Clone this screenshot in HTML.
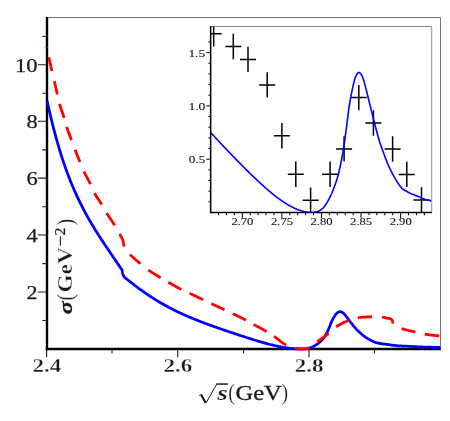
<!DOCTYPE html>
<html><head><meta charset="utf-8"><title>plot</title>
<style>
html,body{margin:0;padding:0;background:#fff;}
body{width:450px;height:421px;overflow:hidden;font-family:"Liberation Serif",serif;}
svg{display:block;will-change:transform;}
</style></head><body>
<svg width="450" height="421" viewBox="0 0 450 421" font-family="'Liberation Serif', serif">
<rect width="450" height="421" fill="#fff"/>
<!-- outer frame (top/right) -->
<path d="M46,17.5H440.5V350" fill="none" stroke="#737373" stroke-width="1"/>
<!-- inset frame (top/right) -->
<path d="M210.9,26.5H431.9" fill="none" stroke="#858585" stroke-width="1"/>
<path d="M431.6,26.5V213.2" fill="none" stroke="#a8a8a8" stroke-width="1.4"/>
<!-- main axes -->
<path d="M47.0,17V350.2" fill="none" stroke="#000" stroke-width="2.4"/>
<path d="M45.8,349.0H440.6" fill="none" stroke="#000" stroke-width="2.4"/>
<path d="M37.80,64.70H47.00 M37.80,121.20H47.00 M37.80,178.10H47.00 M37.80,235.00H47.00 M37.80,292.00H47.00 M42.40,36.50H47.00 M42.40,93.20H47.00 M42.40,149.90H47.00 M42.40,206.80H47.00 M42.40,263.60H47.00 M42.40,320.50H47.00 M46.60,349.00V357.20 M177.70,349.00V357.20 M309.00,349.00V357.20 M112.00,349.00V353.60 M243.60,349.00V353.60 M374.50,349.00V353.60" fill="none" stroke="#1a1a1a" stroke-width="1.1"/>
<!-- inset axes -->
<path d="M210.65,26V213.2" fill="none" stroke="#000" stroke-width="1.5"/>
<path d="M210.2,212.5H431.8" fill="none" stroke="#000" stroke-width="1.5"/>
<path d="M208.40,201.84H210.65 M208.40,191.18H210.65 M208.40,180.52H210.65 M208.40,169.86H210.65 M206.40,159.20H210.65 M208.40,148.54H210.65 M208.40,137.88H210.65 M208.40,127.22H210.65 M208.40,116.56H210.65 M206.40,105.90H210.65 M208.40,95.24H210.65 M208.40,84.58H210.65 M208.40,73.92H210.65 M208.40,63.26H210.65 M206.40,52.60H210.65 M208.40,41.94H210.65 M218.55,212.50V215.30 M226.47,212.50V215.30 M234.38,212.50V215.30 M242.30,212.50V218.00 M250.21,212.50V215.30 M258.13,212.50V215.30 M266.04,212.50V215.30 M273.96,212.50V215.30 M281.87,212.50V218.00 M289.79,212.50V215.30 M297.70,212.50V215.30 M305.62,212.50V215.30 M313.53,212.50V215.30 M321.45,212.50V218.00 M329.36,212.50V215.30 M337.28,212.50V215.30 M345.19,212.50V215.30 M353.11,212.50V215.30 M361.02,212.50V218.00 M368.94,212.50V215.30 M376.85,212.50V215.30 M384.77,212.50V215.30 M392.68,212.50V215.30 M400.60,212.50V218.00 M408.51,212.50V215.30 M416.43,212.50V215.30 M424.35,212.50V215.30" fill="none" stroke="#000" stroke-width="1.0"/>
<!-- crosses -->
<clipPath id="ci"><rect x="210.9" y="26.4" width="220.3" height="186.1"/></clipPath>
<path d="M205.70,33.70H221.70 M213.70,21.00V46.40 M225.30,46.50H241.30 M233.30,33.80V59.20 M240.00,59.40H256.00 M248.00,46.70V72.10 M259.20,84.90H275.20 M267.20,72.20V97.60 M273.90,135.80H289.90 M281.90,123.10V148.50 M287.80,174.20H303.80 M295.80,161.50V186.90 M302.60,200.20H318.60 M310.60,187.50V212.90 M322.10,174.20H338.10 M330.10,161.50V186.90 M336.10,148.90H352.10 M344.10,136.20V161.60 M350.80,97.60H366.80 M358.80,84.90V110.30 M365.40,123.00H381.40 M373.40,110.30V135.70 M384.60,149.00H400.60 M392.60,136.30V161.70 M398.80,174.40H414.80 M406.80,161.70V187.10 M413.50,200.00H429.50 M421.50,187.30V212.70" fill="none" stroke="#000" stroke-width="1.5" clip-path="url(#ci)"/>
<!-- inset curve -->
<path d="M210.48,132.31 L211.55,133.48 L212.62,134.65 L213.70,135.81 L214.77,136.97 L215.84,138.13 L216.91,139.28 L217.99,140.43 L219.06,141.58 L220.13,142.72 L221.20,143.86 L222.28,145.00 L223.35,146.13 L224.42,147.27 L225.49,148.39 L226.56,149.52 L227.64,150.64 L228.71,151.76 L229.78,152.88 L230.85,153.99 L231.93,155.11 L233.00,156.21 L234.07,157.32 L235.14,158.42 L236.21,159.52 L237.29,160.62 L238.36,161.72 L239.43,162.81 L240.50,163.89 L241.58,164.98 L242.65,166.06 L243.72,167.13 L244.79,168.21 L245.87,169.28 L246.94,170.34 L248.01,171.40 L249.08,172.46 L250.15,173.51 L251.23,174.55 L252.30,175.59 L253.37,176.63 L254.44,177.66 L255.52,178.68 L256.59,179.70 L257.66,180.70 L258.73,181.71 L259.81,182.70 L260.88,183.69 L261.95,184.67 L263.02,185.64 L264.09,186.60 L265.17,187.55 L266.24,188.49 L267.31,189.43 L268.38,190.35 L269.46,191.26 L270.53,192.16 L271.60,193.05 L272.67,193.92 L273.75,194.78 L274.82,195.63 L275.89,196.47 L276.96,197.29 L278.03,198.09 L279.11,198.88 L280.18,199.66 L281.25,200.42 L282.32,201.16 L283.40,201.88 L284.47,202.58 L285.54,203.27 L286.61,203.93 L287.68,204.58 L288.76,205.20 L289.83,205.81 L290.90,206.39 L291.97,206.95 L293.05,207.49 L294.12,208.00 L295.19,208.49 L296.26,208.95 L297.34,209.39 L298.41,209.80 L299.48,210.19 L300.55,210.54 L301.62,210.87 L302.70,211.17 L303.77,211.45 L304.84,211.69 L305.91,211.90 L306.99,212.08 L308.06,212.23 L309.13,212.35 L310.20,212.43 L311.28,212.48 L312.35,212.50 L312.35,212.50 L312.57,212.50 L312.80,212.49 L313.02,212.48 L313.24,212.47 L313.47,212.45 L313.69,212.42 L313.92,212.40 L314.14,212.37 L314.37,212.34 L314.59,212.30 L314.81,212.27 L315.04,212.23 L315.26,212.18 L315.49,212.14 L315.71,212.09 L315.93,212.04 L316.16,212.00 L316.38,211.94 L316.61,211.89 L316.83,211.84 L317.06,211.79 L317.28,211.72 L317.50,211.65 L317.73,211.56 L317.95,211.47 L318.18,211.37 L318.40,211.26 L318.63,211.14 L318.85,211.02 L319.07,210.89 L319.30,210.75 L319.52,210.62 L319.75,210.48 L319.97,210.34 L320.19,210.20 L320.42,210.06 L320.64,209.91 L320.87,209.76 L321.09,209.60 L321.32,209.44 L321.54,209.27 L321.76,209.09 L321.99,208.90 L322.21,208.71 L322.44,208.52 L322.66,208.32 L322.88,208.11 L323.11,207.89 L323.33,207.67 L323.56,207.44 L323.78,207.20 L324.01,206.94 L324.23,206.66 L324.45,206.38 L324.68,206.08 L324.90,205.77 L325.13,205.45 L325.35,205.13 L325.58,204.80 L325.80,204.46 L326.02,204.12 L326.25,203.78 L326.47,203.43 L326.70,203.08 L326.92,202.72 L327.14,202.35 L327.37,201.97 L327.59,201.58 L327.82,201.18 L328.04,200.78 L328.27,200.37 L328.49,199.96 L328.71,199.54 L328.94,199.12 L329.16,198.69 L329.39,198.25 L329.61,197.81 L329.83,197.36 L330.06,196.91 L330.28,196.45 L330.51,195.98 L330.73,195.51 L330.96,195.03 L331.18,194.54 L331.40,194.04 L331.63,193.54 L331.85,193.03 L332.08,192.52 L332.30,192.00 L332.52,191.47 L332.75,190.93 L332.97,190.38 L333.20,189.82 L333.42,189.25 L333.65,188.67 L333.87,188.08 L334.09,187.49 L334.32,186.88 L334.54,186.27 L334.77,185.65 L334.99,185.03 L335.22,184.39 L335.44,183.75 L335.66,183.11 L335.89,182.46 L336.11,181.80 L336.34,181.12 L336.56,180.43 L336.78,179.73 L337.01,179.00 L337.23,178.26 L337.46,177.50 L337.68,176.71 L337.91,175.90 L338.13,175.06 L338.35,174.21 L338.58,173.32 L338.80,172.42 L339.03,171.49 L339.25,170.55 L339.47,169.58 L339.70,168.60 L339.92,167.59 L340.15,166.57 L340.37,165.53 L340.60,164.47 L340.82,163.39 L341.04,162.29 L341.27,161.15 L341.49,160.00 L341.72,158.82 L341.94,157.62 L342.17,156.39 L342.39,155.14 L342.61,153.87 L342.84,152.57 L343.06,151.24 L343.29,149.89 L343.51,148.52 L343.73,147.10 L343.96,145.63 L344.18,144.12 L344.41,142.57 L344.63,141.00 L344.86,139.39 L345.08,137.77 L345.30,136.13 L345.53,134.47 L345.75,132.81 L345.98,131.14 L346.20,129.48 L346.42,127.82 L346.65,126.12 L346.87,124.37 L347.10,122.58 L347.32,120.76 L347.55,118.92 L347.77,117.09 L347.99,115.26 L348.22,113.47 L348.44,111.71 L348.67,110.00 L348.89,108.37 L349.12,106.81 L349.34,105.35 L349.56,103.95 L349.79,102.59 L350.01,101.26 L350.24,99.97 L350.46,98.72 L350.68,97.49 L350.91,96.30 L351.13,95.13 L351.36,94.00 L351.58,92.88 L351.81,91.80 L352.03,90.73 L352.25,89.68 L352.48,88.63 L352.70,87.59 L352.93,86.56 L353.15,85.54 L353.37,84.55 L353.60,83.58 L353.82,82.65 L354.05,81.75 L354.27,80.90 L354.50,80.10 L354.72,79.35 L354.94,78.66 L355.17,78.02 L355.39,77.40 L355.62,76.80 L355.84,76.24 L356.07,75.70 L356.29,75.21 L356.51,74.77 L356.74,74.38 L356.96,74.05 L357.19,73.76 L357.41,73.48 L357.63,73.21 L357.86,72.96 L358.08,72.74 L358.31,72.57 L358.53,72.45 L358.76,72.40 L358.98,72.42 L359.20,72.49 L359.43,72.60 L359.65,72.75 L359.88,72.93 L360.10,73.12 L360.32,73.34 L360.55,73.55 L360.77,73.78 L361.00,74.06 L361.22,74.38 L361.45,74.75 L361.67,75.15 L361.89,75.58 L362.12,76.04 L362.34,76.52 L362.57,77.02 L362.79,77.56 L363.01,78.16 L363.24,78.81 L363.46,79.52 L363.69,80.26 L363.91,81.05 L364.14,81.86 L364.36,82.69 L364.58,83.54 L364.81,84.39 L365.03,85.23 L365.26,86.07 L365.48,86.90 L365.71,87.73 L365.93,88.58 L366.15,89.45 L366.38,90.33 L366.60,91.21 L366.83,92.11 L367.05,93.02 L367.27,93.93 L367.50,94.85 L367.72,95.77 L367.95,96.69 L368.17,97.62 L368.40,98.54 L368.62,99.45 L368.84,100.37 L369.07,101.27 L369.29,102.17 L369.52,103.07 L369.74,103.97 L369.96,104.86 L370.19,105.76 L370.41,106.66 L370.64,107.56 L370.86,108.46 L371.09,109.36 L371.31,110.26 L371.53,111.16 L371.76,112.05 L371.98,112.95 L372.21,113.85 L372.43,114.74 L372.66,115.63 L372.88,116.52 L373.10,117.41 L373.33,118.30 L373.55,119.19 L373.78,120.09 L374.00,120.98 L374.22,121.87 L374.45,122.76 L374.67,123.65 L374.90,124.53 L375.12,125.41 L375.35,126.28 L375.57,127.14 L375.79,128.00 L376.02,128.85 L376.24,129.69 L376.47,130.54 L376.69,131.39 L376.91,132.23 L377.14,133.08 L377.36,133.91 L377.59,134.74 L377.81,135.55 L378.04,136.36 L378.26,137.16 L378.48,137.94 L378.71,138.70 L378.93,139.45 L379.16,140.18 L379.38,140.90 L379.61,141.60 L379.83,142.29 L380.05,142.97 L380.28,143.64 L380.50,144.31 L380.73,144.96 L380.95,145.61 L381.17,146.25 L381.40,146.88 L381.62,147.51 L381.85,148.13 L382.07,148.76 L382.30,149.38 L382.52,150.00 L382.74,150.62 L382.97,151.23 L383.19,151.86 L383.42,152.48 L383.64,153.10 L383.86,153.72 L384.09,154.34 L384.31,154.96 L384.54,155.58 L384.76,156.19 L384.99,156.80 L385.21,157.41 L385.43,158.01 L385.66,158.61 L385.88,159.20 L386.11,159.79 L386.33,160.37 L386.56,160.94 L386.78,161.51 L387.00,162.06 L387.23,162.61 L387.45,163.15 L387.68,163.68 L387.90,164.20 L388.12,164.71 L388.35,165.22 L388.57,165.73 L388.80,166.22 L389.02,166.72 L389.25,167.20 L389.47,167.69 L389.69,168.16 L389.92,168.63 L390.14,169.10 L390.37,169.56 L390.59,170.02 L390.81,170.48 L391.04,170.93 L391.26,171.37 L391.49,171.81 L391.71,172.25 L391.94,172.68 L392.16,173.11 L392.38,173.54 L392.61,173.97 L392.83,174.39 L393.06,174.81 L393.28,175.22 L393.50,175.63 L393.73,176.04 L393.95,176.44 L394.18,176.84 L394.40,177.24 L394.63,177.63 L394.85,178.02 L395.07,178.40 L395.30,178.78 L395.52,179.16 L395.75,179.53 L395.97,179.90 L396.20,180.26 L396.42,180.62 L396.64,180.97 L396.87,181.32 L397.09,181.66 L397.32,182.01 L397.54,182.35 L397.76,182.69 L397.99,183.02 L398.21,183.35 L398.44,183.68 L398.66,184.01 L398.89,184.33 L399.11,184.65 L399.33,184.97 L399.56,185.28 L399.78,185.59 L400.01,185.89 L400.23,186.19 L400.45,186.49 L400.68,186.79 L400.90,187.08 L401.13,187.36 L401.35,187.65 L401.58,187.93 L401.80,188.20 L402.60,188.90 L403.91,189.72 L405.22,190.52 L406.53,191.29 L407.84,192.03 L409.15,192.72 L410.46,193.37 L411.77,193.96 L413.08,194.49 L414.39,194.99 L415.70,195.48 L417.01,195.97 L418.32,196.49 L419.63,197.04 L420.94,197.66 L422.25,198.36 L423.55,198.87 L424.86,199.31 L426.17,199.70 L427.48,200.04 L428.79,200.34 L430.10,200.61 L431.41,200.87" fill="none" stroke="#0000ff" stroke-width="1.6" stroke-linejoin="round" clip-path="url(#ci)"/>
<!-- main curves -->
<path d="M47.10,100.78 L48.37,106.57 L49.64,112.15 L50.91,117.55 L52.18,122.76 L53.45,127.80 L54.72,132.66 L55.99,137.35 L57.26,141.89 L58.53,146.27 L59.79,150.51 L61.06,154.60 L62.33,158.56 L63.60,162.39 L64.87,166.09 L66.14,169.68 L67.41,173.15 L68.68,176.51 L69.95,179.77 L71.22,182.94 L72.49,186.00 L73.76,188.98 L75.03,191.88 L76.30,194.69 L77.57,197.43 L78.84,200.10 L80.11,202.70 L81.38,205.23 L82.65,207.71 L83.92,210.13 L85.18,212.50 L86.45,214.81 L87.72,217.09 L88.99,219.32 L90.26,221.51 L91.53,223.66 L92.80,225.78 L94.07,227.87 L95.34,229.93 L96.61,231.96 L97.88,233.97 L99.15,235.96 L100.42,237.93 L101.69,239.89 L102.96,241.82 L104.23,243.75 L105.50,245.66 L106.77,247.56 L108.04,249.45 L109.31,251.33 L110.57,253.21 L111.84,255.08 L113.11,256.94 L114.38,258.80 L115.65,260.65 L116.92,262.51 L118.19,264.36 L119.46,266.20 L120.73,268.05 L122.00,269.89 L122.45,272.20 L122.80,273.80 L123.20,275.30 L123.90,276.50 L124.60,277.38 L125.49,278.10 L126.38,278.81 L127.27,279.52 L128.15,280.23 L129.04,280.93 L129.93,281.63 L130.82,282.33 L131.71,283.02 L132.60,283.71 L133.49,284.39 L134.38,285.07 L135.26,285.75 L136.15,286.42 L137.04,287.08 L137.93,287.74 L138.82,288.40 L139.71,289.05 L140.60,289.69 L141.49,290.33 L142.37,290.97 L143.26,291.60 L144.15,292.22 L145.04,292.84 L145.93,293.45 L146.82,294.06 L147.71,294.66 L148.60,295.26 L149.48,295.85 L150.37,296.43 L151.26,297.01 L152.15,297.59 L153.04,298.16 L153.93,298.72 L154.82,299.28 L155.71,299.83 L156.59,300.37 L157.48,300.91 L158.37,301.45 L159.26,301.98 L160.15,302.50 L161.04,303.02 L161.93,303.54 L162.82,304.04 L163.70,304.55 L164.59,305.04 L165.48,305.54 L166.37,306.02 L167.26,306.51 L168.15,306.98 L169.04,307.46 L169.92,307.92 L170.81,308.39 L171.70,308.84 L172.59,309.30 L173.48,309.75 L174.37,310.19 L175.26,310.63 L176.15,311.07 L177.03,311.50 L177.92,311.92 L178.81,312.34 L179.70,312.76 L180.59,313.18 L181.48,313.59 L182.37,313.99 L183.26,314.40 L184.14,314.80 L185.03,315.19 L185.92,315.58 L186.81,315.97 L187.70,316.35 L188.59,316.74 L189.48,317.11 L190.37,317.49 L191.25,317.86 L192.14,318.23 L193.03,318.60 L193.92,318.96 L194.81,319.32 L195.70,319.68 L196.59,320.03 L197.48,320.38 L198.36,320.73 L199.25,321.08 L200.14,321.43 L201.03,321.77 L201.92,322.11 L202.81,322.45 L203.70,322.79 L204.59,323.12 L205.47,323.45 L206.36,323.79 L207.25,324.11 L208.14,324.44 L209.03,324.77 L209.92,325.09 L210.81,325.41 L211.69,325.74 L212.58,326.06 L213.47,326.37 L214.36,326.69 L215.25,327.01 L216.14,327.32 L217.03,327.64 L217.92,327.95 L218.80,328.26 L219.69,328.57 L220.58,328.88 L221.47,329.19 L222.36,329.49 L223.25,329.80 L224.14,330.11 L225.03,330.41 L225.91,330.71 L226.80,331.02 L227.69,331.32 L228.58,331.62 L229.47,331.92 L230.36,332.22 L231.25,332.52 L232.14,332.82 L233.02,333.12 L233.91,333.41 L234.80,333.71 L235.69,334.00 L236.58,334.30 L237.47,334.59 L238.36,334.89 L239.25,335.18 L240.13,335.47 L241.02,335.76 L241.91,336.05 L242.80,336.34 L243.69,336.63 L244.58,336.91 L245.47,337.20 L246.36,337.48 L247.24,337.77 L248.13,338.05 L249.02,338.33 L249.91,338.61 L250.80,338.89 L251.69,339.17 L252.58,339.44 L253.46,339.72 L254.35,339.99 L255.24,340.26 L256.13,340.53 L257.02,340.80 L257.91,341.06 L258.80,341.32 L259.69,341.59 L260.57,341.84 L261.46,342.10 L262.35,342.35 L263.24,342.60 L264.13,342.85 L265.02,343.10 L265.91,343.34 L266.80,343.58 L267.68,343.82 L268.57,344.05 L269.46,344.28 L270.35,344.51 L271.24,344.73 L272.13,344.95 L273.02,345.16 L273.91,345.37 L274.79,345.58 L275.68,345.78 L276.57,345.98 L277.46,346.17 L278.35,346.36 L279.24,346.54 L280.13,346.72 L281.02,346.89 L281.90,347.06 L282.79,347.22 L283.68,347.37 L284.57,347.52 L285.46,347.66 L286.35,347.80 L287.24,347.93 L288.13,348.05 L289.01,348.17 L289.90,348.28 L290.79,348.38 L291.68,348.48 L292.57,348.57 L293.46,348.65 L294.35,348.72 L295.23,348.78 L296.12,348.84 L297.01,348.89 L297.90,348.93 L298.79,348.96 L299.68,348.98 L300.57,349.00 L301.46,349.00 L301.46,349.00 L301.64,349.00 L301.83,349.00 L302.01,348.99 L302.20,348.99 L302.39,348.99 L302.57,348.98 L302.76,348.97 L302.94,348.97 L303.13,348.96 L303.31,348.95 L303.50,348.94 L303.69,348.93 L303.87,348.92 L304.06,348.90 L304.24,348.89 L304.43,348.88 L304.61,348.87 L304.80,348.85 L304.99,348.84 L305.17,348.82 L305.36,348.81 L305.54,348.79 L305.73,348.77 L305.92,348.75 L306.10,348.73 L306.29,348.70 L306.47,348.67 L306.66,348.64 L306.84,348.60 L307.03,348.57 L307.22,348.53 L307.40,348.50 L307.59,348.46 L307.77,348.43 L307.96,348.39 L308.15,348.35 L308.33,348.31 L308.52,348.27 L308.70,348.23 L308.89,348.18 L309.07,348.14 L309.26,348.09 L309.45,348.04 L309.63,347.99 L309.82,347.94 L310.00,347.89 L310.19,347.83 L310.37,347.77 L310.56,347.71 L310.75,347.65 L310.93,347.59 L311.12,347.52 L311.30,347.45 L311.49,347.37 L311.68,347.29 L311.86,347.21 L312.05,347.12 L312.23,347.04 L312.42,346.95 L312.60,346.86 L312.79,346.77 L312.98,346.68 L313.16,346.58 L313.35,346.49 L313.53,346.39 L313.72,346.29 L313.91,346.19 L314.09,346.09 L314.28,345.99 L314.46,345.88 L314.65,345.77 L314.83,345.66 L315.02,345.55 L315.21,345.43 L315.39,345.32 L315.58,345.20 L315.76,345.09 L315.95,344.97 L316.14,344.85 L316.32,344.72 L316.51,344.60 L316.69,344.47 L316.88,344.34 L317.06,344.21 L317.25,344.08 L317.44,343.95 L317.62,343.81 L317.81,343.68 L317.99,343.54 L318.18,343.40 L318.36,343.25 L318.55,343.11 L318.74,342.96 L318.92,342.81 L319.11,342.65 L319.29,342.50 L319.48,342.34 L319.67,342.18 L319.85,342.01 L320.04,341.85 L320.22,341.68 L320.41,341.51 L320.59,341.34 L320.78,341.17 L320.97,341.00 L321.15,340.82 L321.34,340.64 L321.52,340.46 L321.71,340.27 L321.90,340.08 L322.08,339.88 L322.27,339.68 L322.45,339.47 L322.64,339.25 L322.82,339.03 L323.01,338.80 L323.20,338.56 L323.38,338.32 L323.57,338.08 L323.75,337.82 L323.94,337.57 L324.12,337.30 L324.31,337.04 L324.50,336.76 L324.68,336.49 L324.87,336.21 L325.05,335.92 L325.24,335.62 L325.43,335.32 L325.61,335.01 L325.80,334.70 L325.98,334.38 L326.17,334.05 L326.35,333.72 L326.54,333.38 L326.73,333.03 L326.91,332.68 L327.10,332.32 L327.28,331.95 L327.47,331.58 L327.66,331.18 L327.84,330.78 L328.03,330.37 L328.21,329.95 L328.40,329.52 L328.58,329.09 L328.77,328.65 L328.96,328.21 L329.14,327.77 L329.33,327.32 L329.51,326.88 L329.70,326.44 L329.89,325.99 L330.07,325.52 L330.26,325.04 L330.44,324.56 L330.63,324.07 L330.81,323.58 L331.00,323.09 L331.19,322.62 L331.37,322.15 L331.56,321.69 L331.74,321.26 L331.93,320.84 L332.11,320.45 L332.30,320.08 L332.49,319.72 L332.67,319.36 L332.86,319.02 L333.04,318.69 L333.23,318.36 L333.42,318.04 L333.60,317.73 L333.79,317.43 L333.97,317.13 L334.16,316.84 L334.34,316.56 L334.53,316.28 L334.72,316.00 L334.90,315.72 L335.09,315.45 L335.27,315.18 L335.46,314.91 L335.65,314.65 L335.83,314.41 L336.02,314.17 L336.20,313.94 L336.39,313.73 L336.57,313.53 L336.76,313.34 L336.95,313.17 L337.13,313.01 L337.32,312.85 L337.50,312.70 L337.69,312.55 L337.87,312.42 L338.06,312.31 L338.25,312.20 L338.43,312.11 L338.62,312.04 L338.80,311.96 L338.99,311.89 L339.18,311.82 L339.36,311.77 L339.55,311.72 L339.73,311.69 L339.92,311.68 L340.10,311.68 L340.29,311.70 L340.48,311.73 L340.66,311.77 L340.85,311.82 L341.03,311.87 L341.22,311.92 L341.41,311.98 L341.59,312.04 L341.78,312.12 L341.96,312.20 L342.15,312.30 L342.33,312.41 L342.52,312.52 L342.71,312.65 L342.89,312.77 L343.08,312.91 L343.26,313.05 L343.45,313.21 L343.64,313.38 L343.82,313.57 L344.01,313.77 L344.19,313.98 L344.38,314.20 L344.56,314.42 L344.75,314.64 L344.94,314.87 L345.12,315.09 L345.31,315.32 L345.49,315.54 L345.68,315.76 L345.86,315.99 L346.05,316.22 L346.24,316.45 L346.42,316.69 L346.61,316.93 L346.79,317.17 L346.98,317.41 L347.17,317.66 L347.35,317.90 L347.54,318.15 L347.72,318.39 L347.91,318.64 L348.09,318.88 L348.28,319.13 L348.47,319.37 L348.65,319.61 L348.84,319.85 L349.02,320.08 L349.21,320.32 L349.40,320.56 L349.58,320.80 L349.77,321.04 L349.95,321.28 L350.14,321.52 L350.32,321.76 L350.51,322.00 L350.70,322.24 L350.88,322.48 L351.07,322.72 L351.25,322.95 L351.44,323.19 L351.62,323.43 L351.81,323.67 L352.00,323.90 L352.18,324.14 L352.37,324.38 L352.55,324.62 L352.74,324.86 L352.93,325.09 L353.11,325.33 L353.30,325.56 L353.48,325.80 L353.67,326.03 L353.85,326.26 L354.04,326.49 L354.23,326.71 L354.41,326.94 L354.60,327.17 L354.78,327.39 L354.97,327.62 L355.16,327.84 L355.34,328.06 L355.53,328.28 L355.71,328.50 L355.90,328.72 L356.08,328.93 L356.27,329.14 L356.46,329.34 L356.64,329.54 L356.83,329.73 L357.01,329.92 L357.20,330.11 L357.39,330.30 L357.57,330.48 L357.76,330.66 L357.94,330.83 L358.13,331.01 L358.31,331.18 L358.50,331.35 L358.69,331.52 L358.87,331.69 L359.06,331.85 L359.24,332.02 L359.43,332.18 L359.61,332.35 L359.80,332.51 L359.99,332.68 L360.17,332.84 L360.36,333.01 L360.54,333.17 L360.73,333.34 L360.92,333.51 L361.10,333.67 L361.29,333.83 L361.47,334.00 L361.66,334.16 L361.84,334.32 L362.03,334.48 L362.22,334.64 L362.40,334.80 L362.59,334.96 L362.77,335.11 L362.96,335.26 L363.15,335.41 L363.33,335.56 L363.52,335.71 L363.70,335.85 L363.89,335.99 L364.07,336.13 L364.26,336.27 L364.45,336.40 L364.63,336.54 L364.82,336.67 L365.00,336.80 L365.19,336.93 L365.37,337.06 L365.56,337.19 L365.75,337.31 L365.93,337.44 L366.12,337.56 L366.30,337.68 L366.49,337.80 L366.68,337.92 L366.86,338.04 L367.05,338.16 L367.23,338.28 L367.42,338.39 L367.60,338.51 L367.79,338.62 L367.98,338.73 L368.16,338.85 L368.35,338.96 L368.53,339.07 L368.72,339.18 L368.91,339.29 L369.09,339.39 L369.28,339.50 L369.46,339.61 L369.65,339.71 L369.83,339.81 L370.02,339.92 L370.21,340.02 L370.39,340.12 L370.58,340.22 L370.76,340.31 L370.95,340.41 L371.14,340.51 L371.32,340.60 L371.51,340.69 L371.69,340.78 L371.88,340.88 L372.06,340.97 L372.25,341.06 L372.44,341.15 L372.62,341.23 L372.81,341.32 L372.99,341.41 L373.18,341.50 L373.36,341.58 L373.55,341.66 L373.74,341.75 L373.92,341.83 L374.11,341.91 L374.29,341.99 L374.48,342.07 L374.67,342.15 L374.85,342.23 L375.04,342.30 L375.22,342.38 L375.41,342.45 L375.59,342.53 L376.26,342.71 L377.34,342.93 L378.43,343.14 L379.51,343.35 L380.60,343.55 L381.68,343.73 L382.77,343.90 L383.86,344.06 L384.94,344.20 L386.03,344.34 L387.11,344.47 L388.20,344.60 L389.28,344.73 L390.37,344.88 L391.45,345.05 L392.54,345.23 L393.63,345.37 L394.71,345.49 L395.80,345.59 L396.88,345.68 L397.97,345.76 L399.05,345.83 L400.14,345.90 L401.22,345.96 L402.31,346.01 L403.39,346.06 L404.48,346.10 L405.57,346.15 L406.65,346.20 L407.74,346.25 L408.82,346.31 L409.91,346.37 L410.99,346.43 L412.08,346.50 L413.16,346.56 L414.25,346.62 L415.33,346.69 L416.42,346.74 L417.51,346.80 L418.59,346.85 L419.68,346.89 L420.76,346.93 L421.85,346.96 L422.93,347.00 L424.02,347.04 L425.10,347.07 L426.19,347.10 L427.27,347.14 L428.36,347.17 L429.45,347.20 L430.53,347.23 L431.62,347.26 L432.70,347.28 L433.79,347.30 L434.87,347.33 L435.96,347.35 L437.04,347.36 L438.13,347.38 L439.21,347.39 L440.30,347.40" fill="none" stroke="#0000ff" stroke-width="2.75" stroke-linejoin="round"/>
<path d="M46.59,47.11 L46.69,47.64 M48.76,57.23 L49.00,58.29 L49.24,59.36 L49.47,60.42 L49.71,61.48 L49.95,62.54 L50.19,63.61 L50.44,64.67 L50.68,65.73 L50.92,66.79 L51.17,67.86 L51.41,68.92 L51.66,69.98 L51.91,71.04 M54.32,81.10 L54.57,82.16 L54.82,83.23 L55.06,84.29 L55.31,85.35 L55.55,86.41 L55.79,87.47 L56.03,88.54 L56.27,89.60 L56.51,90.66 L56.75,91.73 L56.99,92.79 L57.23,93.85 L57.35,94.38 M59.51,103.95 L59.80,104.99 L60.12,106.03 L60.44,107.07 L60.79,108.10 L61.14,109.14 L61.50,110.17 L61.87,111.19 L62.24,112.22 L62.61,113.25 L62.97,114.28 L63.32,115.31 L63.67,116.34 L64.00,117.38 L64.16,117.90 M66.70,126.81 L67.03,127.84 L67.38,128.88 L67.73,129.91 L68.08,130.94 L68.45,131.97 L68.82,132.99 L69.19,134.02 L69.57,135.04 L69.94,136.06 L70.32,137.08 L70.70,138.11 L71.08,139.13 L71.46,140.15 M75.09,149.84 L75.49,150.85 L75.90,151.87 L76.30,152.88 L76.71,153.89 L77.13,154.89 L77.54,155.90 L77.96,156.91 L78.37,157.92 L78.79,158.92 L79.21,159.93 L79.62,160.94 L80.04,161.95 M83.96,171.52 L84.43,172.51 L84.90,173.48 L85.40,174.45 L85.90,175.42 L86.42,176.38 L86.94,177.34 L87.47,178.29 L87.99,179.25 L88.51,180.21 L89.02,181.17 L89.53,182.14 L90.02,183.11 L90.49,184.09 M94.48,193.05 L95.00,194.00 L95.54,194.94 L96.10,195.87 L96.68,196.79 L97.28,197.70 L97.88,198.61 L98.49,199.52 L99.10,200.43 L99.71,201.34 L100.32,202.25 L100.91,203.17 L101.49,204.09 L101.77,204.55 M106.67,213.05 L107.24,213.98 L107.83,214.89 L108.42,215.81 L109.02,216.72 L109.63,217.62 L110.24,218.53 L110.85,219.43 L111.46,220.33 L112.07,221.24 L112.67,222.15 L113.26,223.06 L113.85,223.98 L114.42,224.91 L114.70,225.37 M119.52,233.91 L120.11,234.83 L120.69,235.76 L121.24,236.70 L121.73,237.66 L122.19,238.66 L122.59,239.67 L122.91,240.71 L123.19,241.76 L123.43,242.83 L123.63,243.90 L123.80,244.97 L123.94,246.06 L124.00,246.60 M130.00,254.51 L130.73,255.21 L131.46,255.91 L132.21,256.60 L132.95,257.29 L133.71,257.97 L134.47,258.65 L135.24,259.32 L136.01,259.98 L136.78,260.65 L137.55,261.31 L138.33,261.96 L139.11,262.62 L139.89,263.27 L140.41,263.71 M148.34,270.06 L149.17,270.64 L150.01,271.20 L150.85,271.76 L151.70,272.31 L152.56,272.86 L153.43,273.39 L154.30,273.92 L155.17,274.45 L156.04,274.97 L156.92,275.49 L157.79,276.01 L158.67,276.54 L159.54,277.06 L160.41,277.58 L160.70,277.76 M168.26,282.28 L169.14,282.78 L170.02,283.28 L170.91,283.79 L171.79,284.29 L172.68,284.79 L173.57,285.28 L174.46,285.77 L175.35,286.26 L176.24,286.75 L177.13,287.23 L178.03,287.71 L178.93,288.18 L179.83,288.65 L180.73,289.11 L181.34,289.42 M189.62,293.31 L190.53,293.74 L191.45,294.18 L192.37,294.62 L193.29,295.05 L194.20,295.49 L195.12,295.93 L196.04,296.37 L196.95,296.81 L197.87,297.25 L198.79,297.69 L199.70,298.12 L200.62,298.56 L201.54,299.00 L202.45,299.44 L203.06,299.73 M211.32,303.66 L212.24,304.09 L213.16,304.52 L214.09,304.94 L215.01,305.37 L215.93,305.80 L216.85,306.22 L217.78,306.64 L218.70,307.07 L219.62,307.49 L220.55,307.92 L221.47,308.34 L222.39,308.77 L223.32,309.20 L224.24,309.62 L224.54,309.77 M232.82,313.66 L233.73,314.10 L234.65,314.54 L235.56,314.99 L236.48,315.44 L237.39,315.88 L238.30,316.33 L239.21,316.78 L240.12,317.24 L241.03,317.69 L241.94,318.15 L242.84,318.61 L243.74,319.08 L244.65,319.54 L245.55,320.01 L245.85,320.17 M253.56,324.42 L254.45,324.91 L255.34,325.40 L256.24,325.88 L257.13,326.37 L258.03,326.85 L258.92,327.33 L259.82,327.82 L260.71,328.30 L261.60,328.79 L262.49,329.28 L263.38,329.78 L264.26,330.28 L265.14,330.78 L266.02,331.29 L266.60,331.64 M274.01,336.40 L274.84,336.98 L275.67,337.58 L276.50,338.19 L277.32,338.81 L278.13,339.44 L278.94,340.08 L279.76,340.71 L280.57,341.33 L281.39,341.94 L282.22,342.53 L283.06,343.10 L283.91,343.64 L284.77,344.15 L285.64,344.62 L286.24,344.92 M295.47,348.28 L296.46,348.43 L297.46,348.58 L298.48,348.71 L299.50,348.83 L300.52,348.92 L301.53,348.98 L302.54,349.00 L303.56,348.96 L304.60,348.86 L305.63,348.71 L306.66,348.52 L307.66,348.29 L308.63,348.04 L309.55,347.79 M317.29,341.73 L318.11,341.12 L318.93,340.52 L319.75,339.93 L320.58,339.34 L321.42,338.75 L322.25,338.17 L323.08,337.58 L323.91,336.99 L324.74,336.40 L325.56,335.81 L326.38,335.20 L327.19,334.59 L327.99,333.97 L328.78,333.34 M336.11,326.80 L336.94,326.25 L337.79,325.72 L338.65,325.20 L339.54,324.69 L340.43,324.19 L341.34,323.71 L342.25,323.24 L343.18,322.79 L344.11,322.35 L345.05,321.93 L345.99,321.53 L346.94,321.14 L347.88,320.78 L348.83,320.43 M357.95,317.82 L358.95,317.68 L359.95,317.54 L360.96,317.42 L361.97,317.31 L362.99,317.21 L364.00,317.13 L365.02,317.05 L366.03,317.00 L367.05,316.95 L368.06,316.90 L369.08,316.86 L370.10,316.83 L371.11,316.81 L372.13,316.80 M381.94,317.21 L382.95,317.33 L383.95,317.49 L384.95,317.69 L385.95,317.89 L386.95,318.09 L387.95,318.28 L388.94,318.47 L389.94,318.66 L390.94,318.86 L392.50,320.60 L392.56,321.46 L392.69,322.29 L392.87,323.04 L393.09,323.66 M401.64,328.48 L402.59,328.82 L403.56,329.14 L404.54,329.44 L405.53,329.73 L406.52,330.00 L407.53,330.26 L408.54,330.51 L409.56,330.75 L410.58,330.98 L411.60,331.22 L412.61,331.44 L413.63,331.67 L414.65,331.90 L415.40,332.08 M424.76,334.09 L425.78,334.26 L426.80,334.41 L427.82,334.57 L428.85,334.72 L429.87,334.87 L430.90,335.01 L431.92,335.14 L432.95,335.27 L433.98,335.40 L435.01,335.51 L436.04,335.62 L437.07,335.71 L438.11,335.80 L439.14,335.88 L439.40,335.90" fill="none" stroke="#ff0000" stroke-width="2.78" stroke-linejoin="round"/>
<text x="15.00" y="72.00" font-size="19.80" font-weight="normal" font-style="normal" fill="#1a1a1a" textLength="22.60" lengthAdjust="spacingAndGlyphs" stroke="#1a1a1a" stroke-width="0.25">10</text><text x="26.40" y="128.10" font-size="19.80" font-weight="normal" font-style="normal" fill="#1a1a1a" textLength="11.20" lengthAdjust="spacingAndGlyphs" stroke="#1a1a1a" stroke-width="0.25">8</text><text x="26.40" y="185.20" font-size="19.80" font-weight="normal" font-style="normal" fill="#1a1a1a" textLength="11.20" lengthAdjust="spacingAndGlyphs" stroke="#1a1a1a" stroke-width="0.25">6</text><text x="26.40" y="241.80" font-size="19.80" font-weight="normal" font-style="normal" fill="#1a1a1a" textLength="11.20" lengthAdjust="spacingAndGlyphs" stroke="#1a1a1a" stroke-width="0.25">4</text><text x="26.60" y="298.70" font-size="19.80" font-weight="normal" font-style="normal" fill="#1a1a1a" textLength="11.00" lengthAdjust="spacingAndGlyphs" stroke="#1a1a1a" stroke-width="0.25">2</text><text x="32.40" y="371.70" font-size="19.80" font-weight="bold" font-style="normal" fill="#1a1a1a" textLength="28.80" lengthAdjust="spacingAndGlyphs" stroke="#fff" stroke-width="0.30">2.4</text><text x="163.50" y="371.70" font-size="19.80" font-weight="bold" font-style="normal" fill="#1a1a1a" textLength="28.80" lengthAdjust="spacingAndGlyphs" stroke="#fff" stroke-width="0.30">2.6</text><text x="294.70" y="371.70" font-size="19.80" font-weight="bold" font-style="normal" fill="#1a1a1a" textLength="28.80" lengthAdjust="spacingAndGlyphs" stroke="#fff" stroke-width="0.30">2.8</text><text x="188.40" y="56.60" font-size="10.60" font-weight="normal" font-style="normal" fill="#111" textLength="16.80" lengthAdjust="spacingAndGlyphs" stroke="#111" stroke-width="0.10">1.5</text><text x="188.40" y="110.00" font-size="10.60" font-weight="normal" font-style="normal" fill="#111" textLength="17.00" lengthAdjust="spacingAndGlyphs" stroke="#111" stroke-width="0.10">1.0</text><text x="188.80" y="163.40" font-size="10.60" font-weight="normal" font-style="normal" fill="#111" textLength="16.40" lengthAdjust="spacingAndGlyphs" stroke="#111" stroke-width="0.10">0.5</text><text x="231.40" y="225.40" font-size="10.60" font-weight="normal" font-style="normal" fill="#111" textLength="22.00" lengthAdjust="spacingAndGlyphs" stroke="#111" stroke-width="0.10">2.70</text><text x="270.97" y="225.40" font-size="10.60" font-weight="normal" font-style="normal" fill="#111" textLength="22.00" lengthAdjust="spacingAndGlyphs" stroke="#111" stroke-width="0.10">2.75</text><text x="310.55" y="225.40" font-size="10.60" font-weight="normal" font-style="normal" fill="#111" textLength="22.00" lengthAdjust="spacingAndGlyphs" stroke="#111" stroke-width="0.10">2.80</text><text x="350.12" y="225.40" font-size="10.60" font-weight="normal" font-style="normal" fill="#111" textLength="22.00" lengthAdjust="spacingAndGlyphs" stroke="#111" stroke-width="0.10">2.85</text><text x="389.70" y="225.40" font-size="10.60" font-weight="normal" font-style="normal" fill="#111" textLength="22.00" lengthAdjust="spacingAndGlyphs" stroke="#111" stroke-width="0.10">2.90</text><path d="M199.3,395.7 L201.4,394.4 L206.1,402.9 L216.6,384.3" fill="none" stroke="#1a1a1a" stroke-width="1.0" stroke-linejoin="miter"/><path d="M216.2,384.05 H227.9" fill="none" stroke="#111" stroke-width="1.45"/><path d="M201.1,394.7 L205.7,403.0" fill="none" stroke="#1a1a1a" stroke-width="2.0"/><text x="217.60" y="399.70" font-size="21.50" font-weight="bold" font-style="italic" fill="#1a1a1a" textLength="10.20" lengthAdjust="spacingAndGlyphs" stroke="#fff" stroke-width="0.10">s</text><text x="228.20" y="400.40" font-size="24.00" font-weight="normal" font-style="normal" fill="#1a1a1a" textLength="6.60" lengthAdjust="spacingAndGlyphs" stroke="#fff" stroke-width="0.20">(</text><text x="235.40" y="399.70" font-size="21.00" font-weight="normal" font-style="normal" fill="#1a1a1a" textLength="46.50" lengthAdjust="spacingAndGlyphs" stroke="#1a1a1a" stroke-width="0.30">GeV</text><text x="281.60" y="400.40" font-size="24.00" font-weight="normal" font-style="normal" fill="#1a1a1a" textLength="6.60" lengthAdjust="spacingAndGlyphs" stroke="#fff" stroke-width="0.20">)</text>
<g transform="translate(72.0,314.0) rotate(-90)"><text x="-0.20" y="0.00" font-size="18.00" font-weight="bold" font-style="italic" fill="#1a1a1a" textLength="13.00" lengthAdjust="spacingAndGlyphs" stroke="#1a1a1a" stroke-width="0.30">σ</text><text x="13.60" y="0.70" font-size="23.50" font-weight="normal" font-style="normal" fill="#1a1a1a" textLength="6.60" lengthAdjust="spacingAndGlyphs" stroke="#fff" stroke-width="0.20">(</text><text x="21.40" y="0.00" font-size="20.50" font-weight="bold" font-style="normal" fill="#1a1a1a" textLength="45.40" lengthAdjust="spacingAndGlyphs" stroke="#fff" stroke-width="0.40">GeV</text><text x="68.00" y="-7.20" font-size="14.00" font-weight="normal" font-style="normal" fill="#1a1a1a" textLength="10.40" lengthAdjust="spacingAndGlyphs" stroke="#1a1a1a" stroke-width="0.40">−</text><text x="78.60" y="-7.00" font-size="14.00" font-weight="normal" font-style="normal" fill="#1a1a1a" textLength="7.90" lengthAdjust="spacingAndGlyphs" stroke="#1a1a1a" stroke-width="0.25">2</text><text x="88.40" y="0.70" font-size="23.50" font-weight="normal" font-style="normal" fill="#1a1a1a" textLength="6.60" lengthAdjust="spacingAndGlyphs" stroke="#fff" stroke-width="0.20">)</text></g>
</svg>
</body></html>
